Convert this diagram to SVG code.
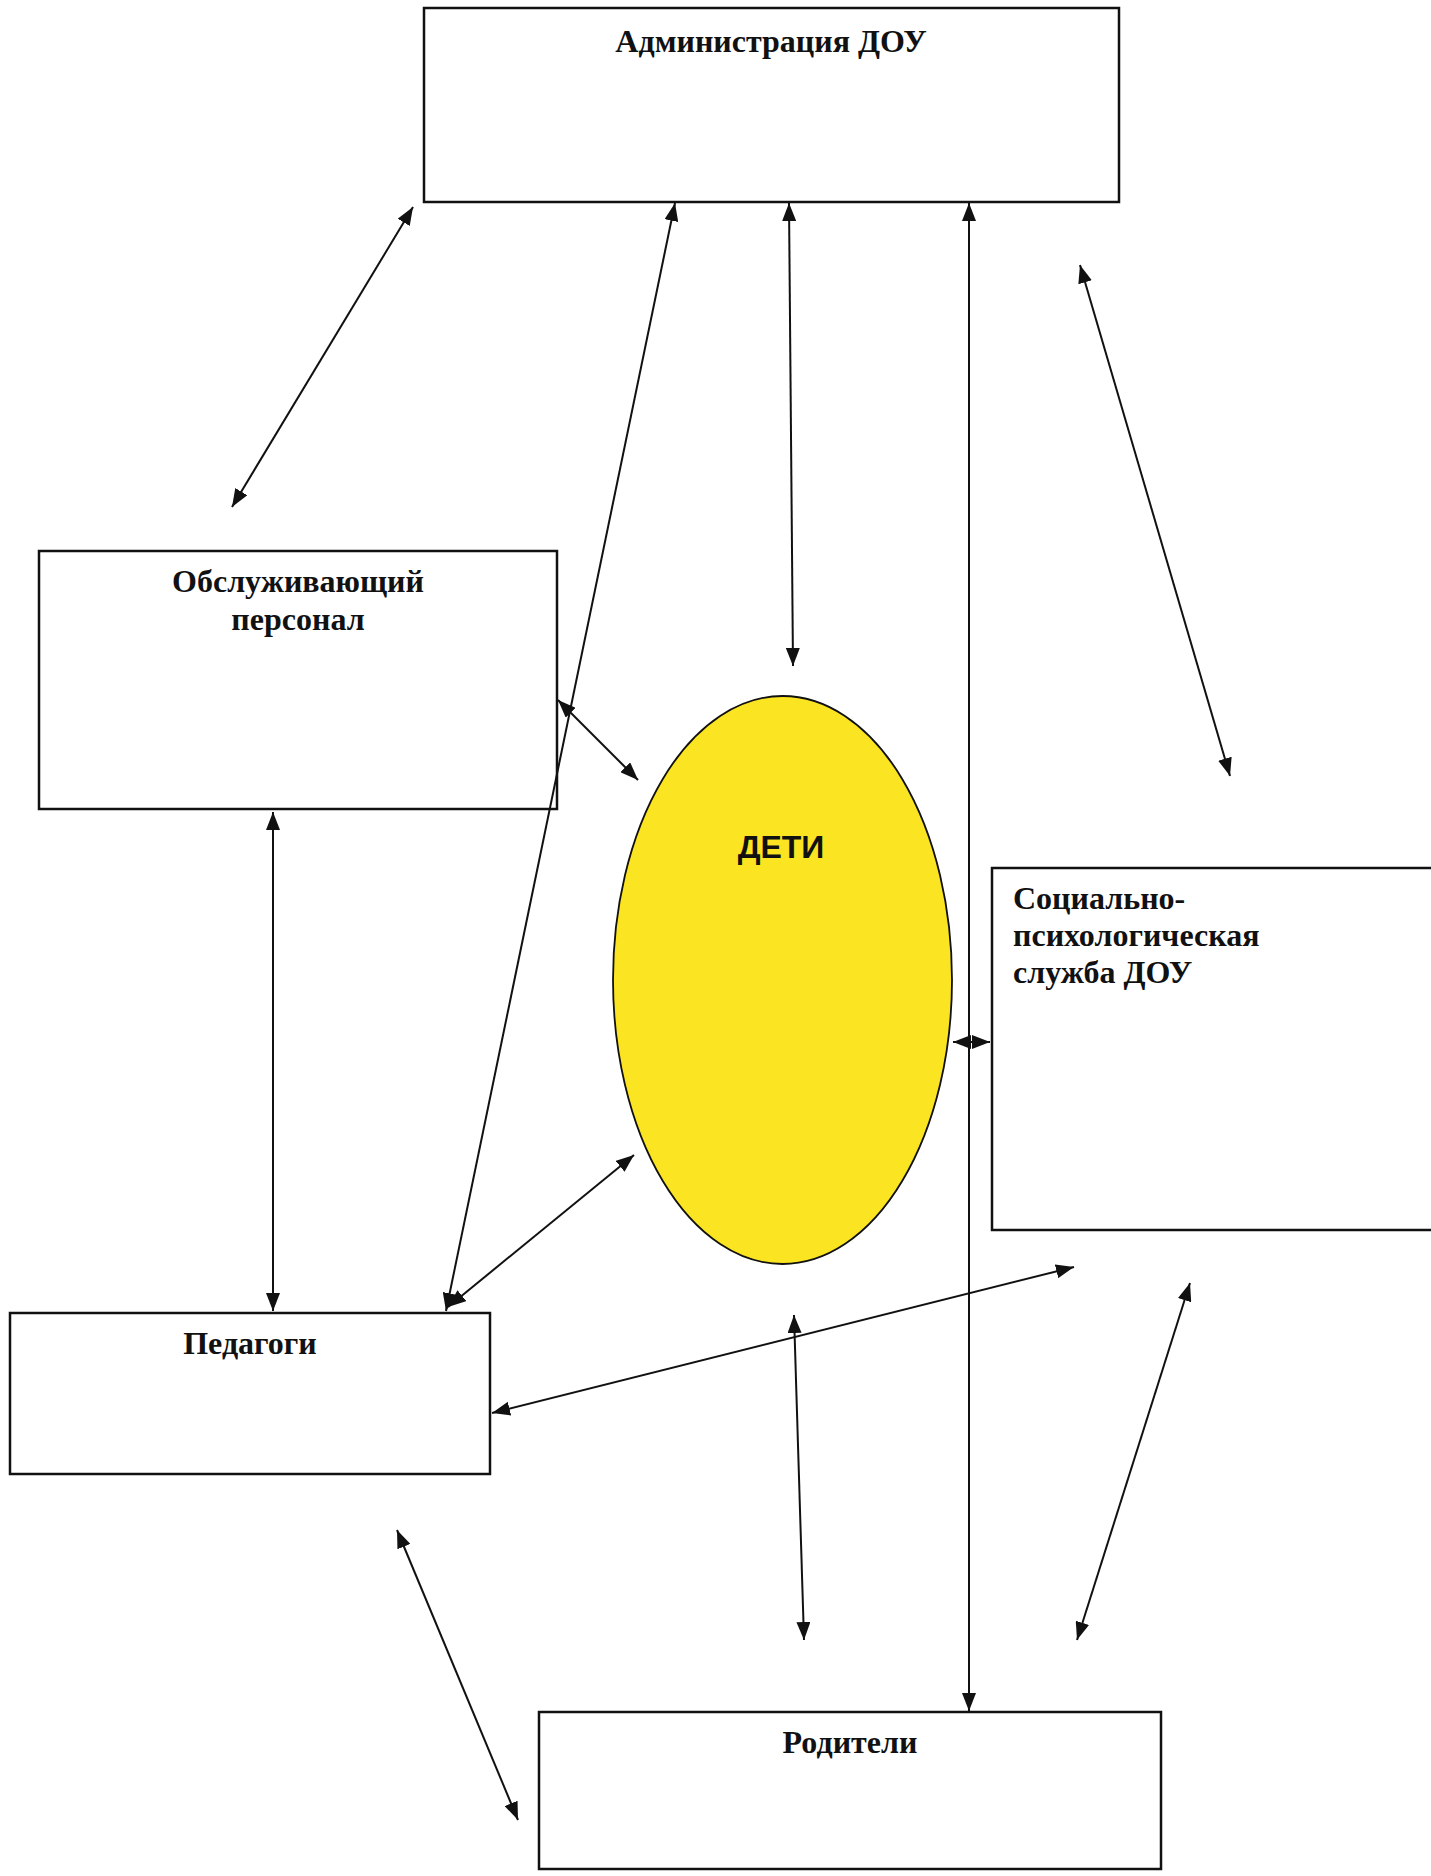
<svg xmlns="http://www.w3.org/2000/svg" width="1431" height="1876" viewBox="0 0 1431 1876">
<style>
.box{fill:#fff;stroke:#111;stroke-width:2.5}
.lbl{font-family:"Liberation Serif","Times New Roman",serif;font-weight:bold;font-size:32px;fill:#111}
.conn line{stroke:#111;stroke-width:2;marker-start:url(#ah);marker-end:url(#ah)}
</style>
<defs>
<marker id="ah" markerUnits="userSpaceOnUse" markerWidth="18" markerHeight="14" refX="18" refY="7" orient="auto-start-reverse">
<path d="M0,0 L18,7 L0,14 z" fill="#111"/>
</marker>
</defs>
<rect width="1431" height="1876" fill="#fff"/>
<g id="admin">
<rect class="box" x="424" y="8" width="695" height="194"/>
<text class="lbl" x="771" y="52" text-anchor="middle">Администрация ДОУ</text>
</g>
<g id="staff">
<rect class="box" x="39" y="551" width="518" height="258"/>
<text class="lbl" x="298" y="592" text-anchor="middle">Обслуживающий</text>
<text class="lbl" x="298" y="630" text-anchor="middle">персонал</text>
</g>
<g id="children">
<ellipse cx="782.5" cy="980" rx="169.5" ry="284" fill="#FBE421" stroke="#111" stroke-width="1.8"/>
<text x="781" y="858" text-anchor="middle" font-family="Liberation Sans, Arial, sans-serif" font-weight="bold" font-size="32" fill="#111">ДЕТИ</text>
</g>
<g id="social">
<rect class="box" x="992" y="868" width="470" height="362"/>
<text class="lbl" x="1013" y="909">Социально-</text>
<text class="lbl" x="1013" y="946">психологическая</text>
<text class="lbl" x="1013" y="983">служба ДОУ</text>
</g>
<g id="teachers">
<rect class="box" x="10" y="1313" width="480" height="161"/>
<text class="lbl" x="250" y="1354" text-anchor="middle">Педагоги</text>
</g>
<g id="parents">
<rect class="box" x="539" y="1712" width="622" height="157"/>
<text class="lbl" x="850" y="1753" text-anchor="middle">Родители</text>
</g>
<g id="connectors" class="conn">
<line x1="413" y1="207" x2="232" y2="507"/>
<line x1="675" y1="203" x2="446" y2="1311"/>
<line x1="789" y1="203" x2="793" y2="666"/>
<line x1="969" y1="203" x2="969" y2="1711"/>
<line x1="1080" y1="265" x2="1230" y2="776"/>
<line x1="558" y1="700" x2="638" y2="780"/>
<line x1="273" y1="812" x2="273" y2="1311"/>
<line x1="634" y1="1155" x2="448" y2="1307"/>
<line x1="953" y1="1042" x2="990" y2="1042"/>
<line x1="492" y1="1413" x2="1074" y2="1267"/>
<line x1="794" y1="1315" x2="804" y2="1640"/>
<line x1="1190" y1="1283" x2="1077" y2="1640"/>
<line x1="397" y1="1530" x2="518" y2="1820"/>
</g>
</svg>
